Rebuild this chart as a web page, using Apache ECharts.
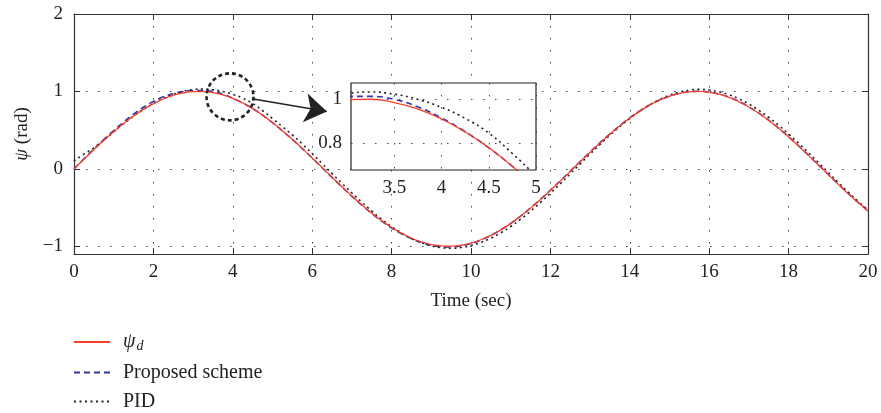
<!DOCTYPE html>
<html lang="en">
<head>
<meta charset="UTF-8">
<title>psi tracking</title>
<script src="https://cdn.jsdelivr.net/npm/echarts@6/dist/echarts.min.js"></script>
<style>
    html, body { margin: 0; padding: 0; background: #fff; }
    #chart { width: 881px; height: 413px; }
</style>
</head>
<body>
<div id="chart"></div>
<script>
// time samples (sec)
var timeSec = [
    0, 0.25, 0.5, 0.75, 1, 1.25, 1.5, 1.75, 2, 2.25, 2.5, 2.75,
    3, 3.25, 3.5, 3.75, 4, 4.25, 4.5, 4.75, 5, 5.25, 5.5, 5.75,
    6, 6.25, 6.5, 6.75, 7, 7.25, 7.5, 7.75, 8, 8.25, 8.5, 8.75,
    9, 9.25, 9.5, 9.75, 10, 10.25, 10.5, 10.75, 11, 11.25, 11.5, 11.75,
    12, 12.25, 12.5, 12.75, 13, 13.25, 13.5, 13.75, 14, 14.25, 14.5, 14.75,
    15, 15.25, 15.5, 15.75, 16, 16.25, 16.5, 16.75, 17, 17.25, 17.5, 17.75,
    18, 18.25, 18.5, 18.75, 19, 19.25, 19.5, 19.75, 20
];
// reference psi_d
var psiDesired = [
    0, 0.125, 0.247, 0.366, 0.479, 0.585, 0.682, 0.768, 0.841, 0.902, 0.949, 0.981,
    0.997, 0.999, 0.984, 0.954, 0.909, 0.850, 0.778, 0.694, 0.598, 0.493, 0.382, 0.264,
    0.141, 0.017, -0.108, -0.231, -0.351, -0.465, -0.572, -0.670, -0.757, -0.831, -0.895, -0.944,
    -0.978, -0.996, -0.999, -0.987, -0.959, -0.916, -0.859, -0.789, -0.706, -0.612, -0.508, -0.397,
    -0.279, -0.158, -0.033, 0.092, 0.215, 0.335, 0.450, 0.558, 0.657, 0.746, 0.823, 0.887,
    0.938, 0.974, 0.995, 1.000, 0.989, 0.963, 0.923, 0.867, 0.799, 0.717, 0.625, 0.523,
    0.412, 0.295, 0.174, 0.050, -0.075, -0.199, -0.320, -0.435, -0.544
];
// proposed scheme
var psiProposed = [
    0, 0.128, 0.255, 0.378, 0.495, 0.605, 0.705, 0.795, 0.870, 0.930, 0.972, 1.000,
    1.012, 1.012, 0.998, 0.964, 0.913, 0.851, 0.778, 0.693, 0.597, 0.491, 0.380, 0.262,
    0.139, 0.014, -0.111, -0.235, -0.355, -0.470, -0.578, -0.676, -0.764, -0.839, -0.903, -0.953,
    -0.988, -1.006, -1.009, -0.995, -0.965, -0.920, -0.861, -0.789, -0.705, -0.610, -0.505, -0.393,
    -0.275, -0.154, -0.030, 0.095, 0.218, 0.338, 0.452, 0.559, 0.658, 0.747, 0.824, 0.888,
    0.939, 0.975, 0.996, 1.002, 0.992, 0.966, 0.926, 0.870, 0.801, 0.720, 0.628, 0.526,
    0.415, 0.298, 0.176, 0.052, -0.073, -0.197, -0.318, -0.433, -0.542
];
// PID
var psiPid = [
    0.100, 0.190, 0.272, 0.370, 0.478, 0.583, 0.680, 0.768, 0.845, 0.910, 0.962, 1.000,
    1.024, 1.032, 1.022, 0.998, 0.962, 0.912, 0.845, 0.752, 0.650, 0.545, 0.438, 0.322,
    0.196, 0.068, -0.061, -0.188, -0.312, -0.430, -0.545, -0.652, -0.746, -0.828, -0.900, -0.955,
    -0.995, -1.018, -1.025, -1.017, -0.991, -0.951, -0.896, -0.827, -0.745, -0.651, -0.547, -0.434,
    -0.315, -0.192, -0.064, 0.064, 0.191, 0.315, 0.435, 0.547, 0.651, 0.745, 0.827, 0.895,
    0.951, 0.992, 1.017, 1.026, 1.018, 0.995, 0.958, 0.904, 0.837, 0.756, 0.664, 0.562,
    0.450, 0.331, 0.208, 0.081, -0.047, -0.175, -0.300, -0.419, -0.532
];
var seriesNames = ['ψd', 'Proposed scheme', 'PID'];
var mainYTicks = [-1, 0, 1, 2];
var insetXTicks = [3.5, 4, 4.5, 5];
var insetYTicks = [0.8, 1];

// zoom marker (circle) and arrow, in data units
var zoomCircleAt = [3.93, 0.93];
var arrowFrom = [4.48, 0.905];
var arrowTo = [6.37, 0.74];

var FONT = 'Liberation Serif';
var INK = '#222';

function pairs(ys) {
    return timeSec.map(function (t, i) { return [t, ys[i]]; });
}
function minusSign(v) {
    return String(v).replace('-', '\u2212');
}

var dom = document.getElementById('chart');
var myChart = echarts.init(dom, null, { renderer: 'canvas' });

var gridDots = { show: true, lineStyle: { color: '#444', width: 1, type: [1.5, 10.5] } };
var labelFont = { fontFamily: FONT, fontSize: 19, color: INK };

function lines(xi, yi, zBase, withMarks) {
    var list = [
        {
            name: seriesNames[1], type: 'line', xAxisIndex: xi, yAxisIndex: yi,
            data: pairs(psiProposed), symbol: 'none', smooth: true, z: zBase,
            lineStyle: { color: '#3434a6', width: 1.6, type: [6, 4] },
            itemStyle: { color: '#3434a6' }
        },
        {
            name: seriesNames[2], type: 'line', xAxisIndex: xi, yAxisIndex: yi,
            data: pairs(psiPid), symbol: 'none', smooth: true, z: zBase,
            lineStyle: { color: INK, width: 1.6, type: [2, 3.5] },
            itemStyle: { color: INK }
        },
        {
            name: seriesNames[0], type: 'line', xAxisIndex: xi, yAxisIndex: yi,
            data: pairs(psiDesired), symbol: 'none', smooth: true, z: zBase + 1,
            lineStyle: { color: '#f7402a', width: 1.3 },
            itemStyle: { color: '#f7402a' }
        }
    ];
    if (withMarks) {
        list[2].markPoint = {
            silent: true,
            symbol: 'circle',
            symbolSize: 47,
            label: { show: false },
            itemStyle: { color: 'rgba(0,0,0,0)', borderColor: INK, borderWidth: 2.6, borderType: [4, 3] },
            data: [{ coord: zoomCircleAt }]
        };
        list[2].markLine = {
            silent: true,
            symbol: ['none', 'arrow'],
            symbolSize: 22,
            label: { show: false },
            lineStyle: { color: INK, width: 1.4, type: 'solid' },
            data: [[{ coord: arrowFrom }, { coord: arrowTo }]]
        };
    }
    return list;
}

var option = {
    animation: false,
    backgroundColor: '#fff',
    legend: {
        data: seriesNames,
        orient: 'vertical',
        left: 73,
        top: 332,
        padding: 0,
        itemWidth: 36,
        itemHeight: 14,
        itemGap: 9,
        itemStyle: { color: 'rgba(0,0,0,0)', borderWidth: 0, opacity: 0 },
        formatter: function (name) {
            return name === 'ψd' ? '{i|ψ}{s|d}' : name;
        },
        textStyle: {
            fontFamily: FONT, fontSize: 20, color: INK, lineHeight: 20, padding: [0, 0, 0, 8],
            rich: {
                i: { fontFamily: FONT, fontSize: 20, fontStyle: 'italic', color: INK },
                s: { fontFamily: FONT, fontSize: 14, fontStyle: 'italic', color: INK, padding: [9, 0, 0, 1] }
            }
        }
    },
    grid: [
        { left: 74, top: 14, width: 794, height: 240, show: false },
        { left: 351, top: 83, width: 185, height: 87, show: true, z: 5,
          backgroundColor: '#fff', borderColor: INK, borderWidth: 1.2 }
    ],
    xAxis: [
        {
            type: 'value', gridIndex: 0, min: 0, max: 20, interval: 2, position: 'bottom',
            axisLine: { onZero: false, lineStyle: { color: '#333', width: 1.2 } },
            axisTick: { inside: true, length: 6, lineStyle: { color: '#333' } },
            axisLabel: Object.assign({ margin: 9 }, labelFont),
            splitLine: gridDots,
            name: 'Time (sec)', nameLocation: 'middle', nameGap: 38,
            nameTextStyle: labelFont
        },
        {
            type: 'value', gridIndex: 0, min: 0, max: 20, interval: 2, position: 'top',
            axisLine: { onZero: false, lineStyle: { color: '#333', width: 1.2 } },
            axisTick: { inside: true, length: 6, lineStyle: { color: '#333' } },
            axisLabel: { show: false }, splitLine: { show: false }
        },
        {
            type: 'value', gridIndex: 1, min: 3.04, max: 5, z: 6,
            axisLine: { show: false },
            axisTick: { show: false, customValues: insetXTicks },
            axisLabel: Object.assign({ margin: 9, customValues: insetXTicks }, labelFont),
            splitLine: gridDots
        }
    ],
    yAxis: [
        {
            type: 'value', gridIndex: 0, min: -1.1, max: 2, position: 'left',
            axisLine: { onZero: false, lineStyle: { color: '#333', width: 1.2 } },
            axisTick: { inside: true, length: 6, lineStyle: { color: '#333' }, customValues: mainYTicks },
            axisLabel: Object.assign({ margin: 11, customValues: mainYTicks, formatter: minusSign }, labelFont),
            splitLine: gridDots,
            name: '{i|ψ} (rad)', nameLocation: 'middle', nameGap: 42,
            nameTextStyle: Object.assign({
                rich: { i: { fontFamily: FONT, fontSize: 19, fontStyle: 'italic', color: INK } }
            }, labelFont)
        },
        {
            type: 'value', gridIndex: 0, min: -1.1, max: 2, position: 'right',
            axisLine: { onZero: false, lineStyle: { color: '#333', width: 1.2 } },
            axisTick: { inside: true, length: 6, lineStyle: { color: '#333' }, customValues: mainYTicks },
            axisLabel: { show: false }, splitLine: { show: false }
        },
        {
            type: 'value', gridIndex: 1, min: 0.677, max: 1.073, z: 6,
            axisLine: { show: false },
            axisTick: { show: false, customValues: insetYTicks },
            axisLabel: Object.assign({ margin: 9, customValues: insetYTicks }, labelFont),
            splitLine: gridDots
        }
    ],
    series: lines(0, 0, 2, true).concat(lines(2, 2, 7, false))
};

myChart.setOption(option, true);
</script>
</body>
</html>
